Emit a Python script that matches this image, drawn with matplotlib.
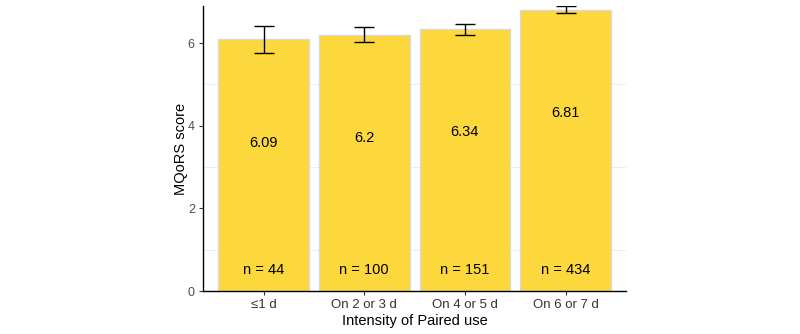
import matplotlib
matplotlib.use("Agg")
import matplotlib.pyplot as plt
import numpy as np

# data
categories = ["\u22641 d", "On 2 or 3 d", "On 4 or 5 d", "On 6 or 7 d"]
scores = [6.09, 6.2, 6.34, 6.81]
err_low = [5.77, 6.03, 6.21, 6.72]
err_high = [6.42, 6.38, 6.46, 6.89]
n_counts = [44, 100, 151, 434]

BAR_COLOR = "#FDD83C"
EDGE_COLOR = "#D9D9D9"

plt.rcParams["font.family"] = ["Liberation Sans", "DejaVu Sans"]

fig = plt.figure(figsize=(8, 3.34), dpi=100)
ax = fig.add_axes([0.254, 0.1287, 0.5285, 0.8533])

x = np.arange(1, len(categories) + 1)

# minor grid lines (ggplot style)
for g in [1, 3, 5]:
    ax.axhline(g, color="#EBEBEB", lw=0.6, zorder=0)

ax.bar(x, scores, width=0.9, color=BAR_COLOR, edgecolor=EDGE_COLOR, linewidth=1.0, zorder=2)

lo = np.array(scores) - np.array(err_low)
hi = np.array(err_high) - np.array(scores)
ax.errorbar(x, scores, yerr=[lo, hi], fmt="none", ecolor="black", elinewidth=1.0,
            capsize=7.5, capthick=1.0, zorder=3)

for xi, s, n in zip(x, scores, n_counts):
    ax.text(xi, s - 2.5, f"{s:g}", ha="center", va="center", fontsize=10.5, color="black", zorder=4)
    ax.text(xi, 0.5, f"n = {n}", ha="center", va="center", fontsize=10.5, color="black", zorder=4)

ax.set_xlim(0.4, 4.6)
ax.set_ylim(0, 6.9)
ax.set_xticks(x)
ax.set_xticklabels(categories)
ax.set_yticks([0, 2, 4, 6])

ax.spines["top"].set_visible(False)
ax.spines["right"].set_visible(False)
ax.spines["left"].set_linewidth(1.0)
ax.spines["bottom"].set_linewidth(1.0)

ax.tick_params(axis="x", length=3, width=0.8, color="#333333", labelsize=9.5, labelcolor="#333333", pad=3)
ax.tick_params(axis="y", length=3, width=0.8, color="#333333", labelsize=9, labelcolor="#4D4D4D", pad=3)

ax.set_xlabel("Intensity of Paired use", fontsize=10.5, labelpad=2)
ax.set_ylabel("MQoRS score", fontsize=10.5, labelpad=0)

fig.savefig("out.png", dpi=100)
